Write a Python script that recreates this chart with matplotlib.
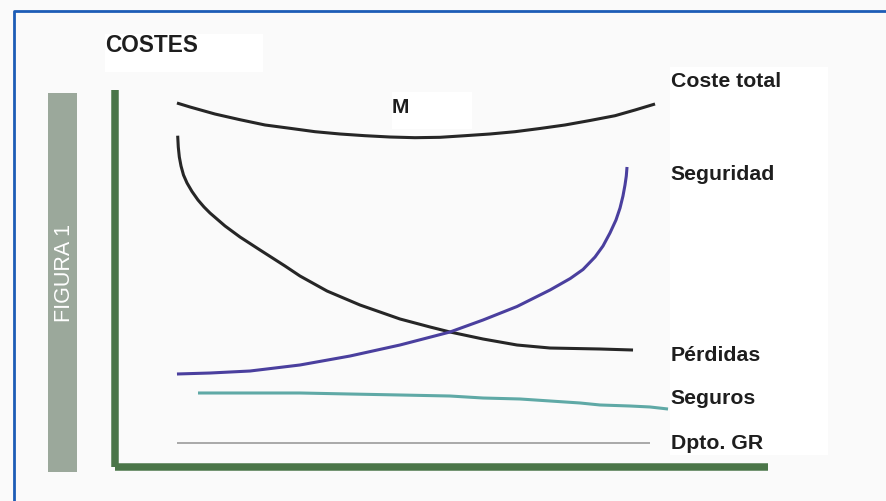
import matplotlib
matplotlib.use("Agg")
import matplotlib.pyplot as plt
from matplotlib.patches import Rectangle
from matplotlib.lines import Line2D

# ---------------- data (arbitrary units, x: activity level, y: cost) ----------------
total_x = [9.49, 11.49, 15.31, 19.14, 22.97, 26.80, 30.63, 34.46, 38.28, 42.11, 45.94,
           49.77, 53.60, 57.43, 61.26, 65.08, 68.91, 72.74, 76.57, 79.63, 82.70]
total_y = [96.55, 95.49, 93.63, 92.12, 90.72, 89.84, 88.94, 88.33, 87.88, 87.53, 87.35,
           87.45, 87.88, 88.33, 88.94, 89.79, 90.72, 91.91, 93.18, 94.69, 96.29]

perdidas_x = [9.60, 9.69, 9.85, 10.11, 10.49, 11.03, 11.79, 12.71, 13.63, 14.55, 16.85, 19.14,
              22.21, 26.03, 28.33, 32.47, 37.52, 43.64, 48.24, 51.30, 56.36, 61.56, 66.62,
              74.27, 79.33]
perdidas_y = [87.88, 84.88, 82.23, 79.84, 77.45, 75.33, 73.08, 70.82, 68.97, 67.37, 63.93, 61.01,
              57.56, 53.32, 50.66, 46.68, 42.97, 39.26, 37.14, 35.81, 33.95, 32.36, 31.56,
              31.30, 31.03]

seguridad_x = [9.49, 14.55, 20.67, 28.33, 35.99, 43.64, 51.30, 56.36, 61.56, 66.62, 69.72,
               71.67, 73.51, 74.73, 75.80, 76.72, 77.34, 77.79, 78.10, 78.30, 78.41]
seguridad_y = [24.67, 24.93, 25.46, 27.06, 29.44, 32.36, 35.81, 38.99, 42.57, 46.95, 50.00,
               52.39, 55.70, 58.62, 62.07, 65.52, 68.70, 71.88, 74.80, 77.19, 79.58]

seguros_x = [12.71, 20.67, 28.33, 35.99, 43.64, 51.30, 56.36, 62.02, 66.62, 71.21, 74.27,
             78.87, 81.93, 84.69]
seguros_y = [19.63, 19.63, 19.63, 19.36, 19.10, 18.83, 18.30, 18.04, 17.51, 16.98, 16.45,
             16.18, 15.92, 15.38]

dpto_x = [9.5, 81.9]
dpto_y = [6.4, 6.4]

labels = ["Coste total", "Seguridad", "Pérdidas", "Seguros", "Dpto. GR"]
label_y = [101.1, 76.4, 28.4, 17.0, 5.0]
title = "COSTES"
side_label = "FIGURA 1"
min_label = "M"

# ---------------- figure ----------------
W, H = 887, 502
fig = plt.figure(figsize=(W / 100, H / 100), dpi=100, facecolor="#fafafa")

def px_rect(x0, y0, x1, y1, **kw):
    r = Rectangle((x0 / W, 1 - y1 / H), (x1 - x0) / W, (y1 - y0) / H,
                  transform=fig.transFigure, **kw)
    fig.patches.append(r)

# white boxes behind texts
px_rect(105, 35, 263, 73, facecolor="white", edgecolor="none", zorder=-5)
px_rect(670, 68, 828, 456, facecolor="white", edgecolor="none", zorder=-5)

# blue frame (left and top)
fig.lines.append(Line2D([14 / W, 14 / W, 1.0], [0.0, 1 - 12 / H, 1 - 12 / H],
                        transform=fig.transFigure, color="#1c5cb6", lw=2.0, zorder=-4))

# grey side band
px_rect(48, 94, 77, 473, facecolor="#9ba89b", edgecolor="none", zorder=-4)
fig.text(64.5 / W, 1 - 273 / H, side_label, rotation=90, color="white",
         fontsize=15.5, family="Liberation Sans", ha="center", va="center")

# axes
left, right, top, bottom = 115, 768, 91, 468
ax = fig.add_axes([left / W, 1 - bottom / H, (right - left) / W, (bottom - top) / H])
ax.set_facecolor("none")
ax.set_xlim(0, 100)
ax.set_ylim(0, 100)
for s in ("top", "right"):
    ax.spines[s].set_visible(False)
for s in ("left", "bottom"):
    ax.spines[s].set_color("#4a7548")
    ax.spines[s].set_linewidth(5.4)
    ax.spines[s].set_capstyle("butt")
ax.set_xticks([])
ax.set_yticks([])

# white box behind M
ax.add_patch(Rectangle((42.4, 89.6), 12.3, 9.8, transform=ax.transData,
                       facecolor="white", edgecolor="none", zorder=0, clip_on=False))

kw = dict(solid_capstyle="butt", solid_joinstyle="round", clip_on=False)
ax.plot(total_x, total_y, color="#262626", lw=2.2, zorder=3, **kw)
ax.plot(perdidas_x, perdidas_y, color="#262626", lw=2.2, zorder=3, **kw)
ax.plot(seguridad_x, seguridad_y, color="#4a3f9e", lw=2.2, zorder=3, **kw)
ax.plot(seguros_x, seguros_y, color="#5fa9a6", lw=2.2, zorder=3, **kw)
ax.plot(dpto_x, dpto_y, color="#a8a8a8", lw=1.4, zorder=3, **kw)

tkw = dict(family="Liberation Sans", fontweight="bold", color="#1e1e1e",
           va="baseline", ha="left", clip_on=False)
for lab, y in zip(labels, label_y):
    ax.text(85.1, y, lab, fontsize=15.3, **tkw)
ax.text(42.4, 94.2, min_label, fontsize=15, **tkw)
ax.text(-1.5, 110.3, title, fontsize=16.3, **tkw)

fig.savefig("out.png", dpi=100, facecolor=fig.get_facecolor())
